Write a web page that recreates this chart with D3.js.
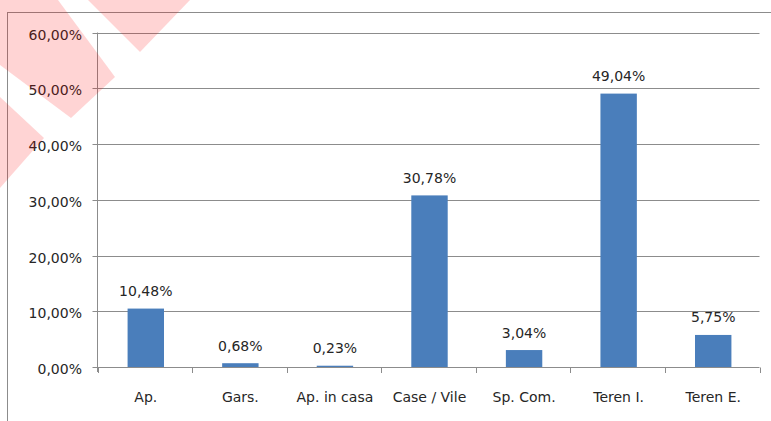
<!DOCTYPE html>
<html>
<head>
<meta charset="utf-8">
<script src="https://cdn.jsdelivr.net/npm/d3@7"></script>
<style>
  body { margin: 0; background: #fff; }
  svg { display: block; font-family: "DejaVu Sans", sans-serif; }
</style>
</head>
<body>
<script>
// data
const categories = ["Ap.", "Gars.", "Ap. in casa", "Case / Vile", "Sp. Com.", "Teren I.", "Teren E."];
const shares = [0.1048, 0.0068, 0.0023, 0.3078, 0.0304, 0.4904, 0.0575];
const yTicks = [0, 0.1, 0.2, 0.3, 0.4, 0.5, 0.6];

const width = 771, height = 421;
const margin = {left: 97.5, right: 11.5, top: 32.5, bottom: 53.5};

const pct = v => (v * 100).toFixed(2).replace(".", ",") + "%";

const svg = d3.select("body").append("svg")
  .attr("width", width)
  .attr("height", height);

// outer chart frame (cut off at right and bottom)
svg.append("rect")
  .attr("x", 7.5).attr("y", 12.5)
  .attr("width", 900).attr("height", 600)
  .attr("fill", "none")
  .attr("stroke", "#8c8c8c");

const x = d3.scaleBand()
  .domain(categories)
  .range([margin.left, width - margin.right])
  .padding(0);

const y = d3.scaleLinear()
  .domain([0, 0.6])
  .range([height - margin.bottom - 0.5, margin.top]);

// gridlines
svg.append("g")
  .selectAll("line")
  .data(yTicks)
  .join("line")
  .attr("x1", margin.left - 5)
  .attr("x2", width - margin.right)
  .attr("y1", d => Math.round(y(d)) + 0.5)
  .attr("y2", d => Math.round(y(d)) + 0.5)
  .attr("stroke", "#8c8c8c");

// y axis line
svg.append("line")
  .attr("x1", margin.left).attr("x2", margin.left)
  .attr("y1", y(0.6)).attr("y2", y(0) + 5)
  .attr("stroke", "#8c8c8c");

// x axis ticks at category boundaries
const bounds = categories.map(c => x(c)).concat([x.range()[1]]);
svg.append("g")
  .selectAll("line")
  .data(bounds)
  .join("line")
  .attr("x1", d => Math.round(d) + 0.5)
  .attr("x2", d => Math.round(d) + 0.5)
  .attr("y1", Math.round(y(0)) + 0.5)
  .attr("y2", Math.round(y(0)) + 6)
  .attr("stroke", "#8c8c8c");

// y tick labels
svg.append("g")
  .selectAll("text")
  .data(yTicks)
  .join("text")
  .attr("x", 82)
  .attr("y", d => y(d) + 7)
  .attr("text-anchor", "end")
  .attr("font-size", 14)
  .attr("fill", "#262626")
  .text(pct);

// bars
const barW = x.bandwidth() * 0.385;
svg.append("g")
  .selectAll("rect")
  .data(shares)
  .join("rect")
  .attr("x", (d, i) => x(categories[i]) + (x.bandwidth() - barW) / 2 + 1)
  .attr("y", d => y(d))
  .attr("width", barW)
  .attr("height", d => y(0) - y(d))
  .attr("fill", "#4a7ebb");

// value labels
svg.append("g")
  .selectAll("text")
  .data(shares)
  .join("text")
  .attr("x", (d, i) => x(categories[i]) + x.bandwidth() / 2 + 1)
  .attr("y", d => y(d) - 12.5)
  .attr("text-anchor", "middle")
  .attr("font-size", 14)
  .attr("fill", "#262626")
  .text(pct);

// category labels
svg.append("g")
  .selectAll("text")
  .data(categories)
  .join("text")
  .attr("x", d => x(d) + x.bandwidth() / 2 + 1)
  .attr("y", 402)
  .attr("text-anchor", "middle")
  .attr("font-size", 14)
  .attr("fill", "#262626")
  .text(d => d);

// pink watermark stripes in the top left corner
const stripes = [
  [[0, 0], [58, 0], [115, 77], [71, 118], [0, 65]],
  [[88, 0], [190, 0], [140, 52]],
  [[0, 97], [44, 138], [0, 188]]
];
svg.append("g")
  .selectAll("polygon")
  .data(stripes)
  .join("polygon")
  .attr("points", d => d.map(p => p.join(",")).join(" "))
  .attr("fill", "rgba(255,0,0,0.17)");
</script>
</body>
</html>
